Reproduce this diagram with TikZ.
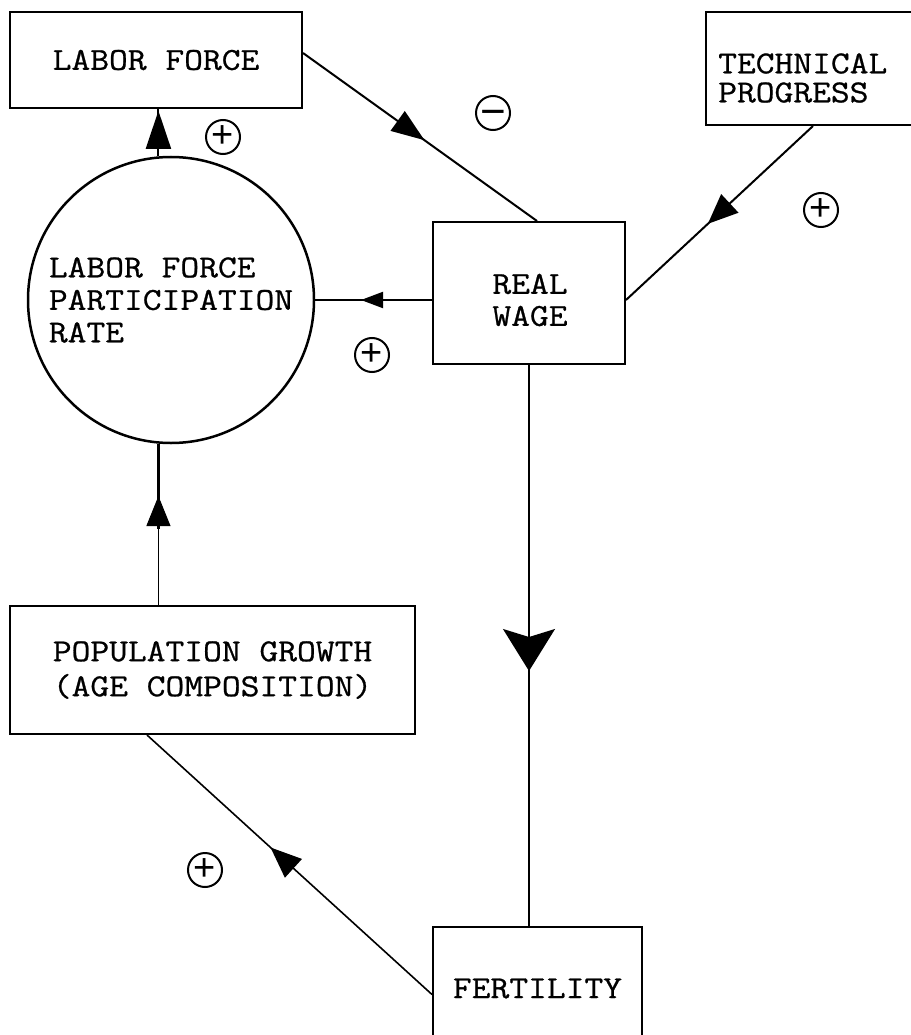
\documentclass[tikz,border=0pt]{standalone}
\usepackage{fontspec}
\newfontfamily\typefont{Latin Modern Mono}[FakeStretch=1.14,FakeBold=0.8]
\newfontfamily\signfont{Liberation Sans}
\usetikzlibrary{arrows.meta,decorations.markings,calc}
\begin{document}
\begin{tikzpicture}[x=1pt,y=-1pt,
  box/.style={draw, line width=2pt, rectangle, inner sep=0pt},
  lbl/.style={font=\typefont\fontsize{32}{#1}\selectfont, inner sep=0pt, align=left},
  lbl/.default=32,
  link/.style={line width=2pt},
  marrow/.style 2 args={postaction={decorate}, decoration={markings, mark=at position #1 with {\arrow{#2}}}},
  sign/.style={draw, circle, line width=2pt, minimum size=34pt, inner sep=0pt, font=\signfont\fontsize{38}{38}\selectfont}]
\useasboundingbox (0,0) rectangle (910,1035);
% boxes
\node[box, lbl, align=center, minimum width=292pt, minimum height=96pt] (lf) at (156,60) {LABOR FORCE};
\node[box, minimum width=209pt, minimum height=113pt] (tp) at (810.5,68.5) {};
\node[lbl=29, anchor=west] (tptext) at (718,78) {TECHNICAL\\PROGRESS};
\node[box, minimum width=192pt, minimum height=142pt] (rw) at (529,293) {};
\node[lbl, align=center] (rwtext) at (530,300) {REAL\\WAGE};
\node[draw, circle, line width=2.5pt, minimum size=286pt, inner sep=0pt, lbl=32.5, align=left] (circ) at (171,300) {LABOR FORCE\\PARTICIPATION\\RATE};
\node[box, lbl=35, align=center, minimum width=405pt, minimum height=128pt] (pg) at (212.5,670) {POPULATION GROWTH\\(AGE COMPOSITION)};
\node[box, lbl, minimum width=209pt, minimum height=123pt] (fert) at (537.5,988.5) {FERTILITY};
% connectors
\draw[link, marrow={45.5pt}{Triangle[length=38pt,width=25pt]}] (circ.95) -- (circ.95 |- lf.south);
\draw[link, marrow={149.5pt}{Triangle[length=33pt,width=24pt]}] ([yshift=7pt]lf.east) -- ([xshift=8pt]rw.north);
\draw[link, marrow={143.6pt}{Triangle[length=30pt,width=25pt]}] ([xshift=2.5pt]tp.south) -- ([yshift=-7pt]rw.east);
\draw[link, marrow={71pt}{Triangle[length=22pt,width=16pt]}] ([yshift=-7pt]rw.west) -- (circ.east);
\draw[line width=1pt, marrow={109pt}{Triangle[length=30pt,width=24pt]}] (circ.265 |- pg.north) -- (circ.265);
\draw[line width=2.5pt] (circ.265) -- ($(circ.265)!85pt!(circ.265 |- pg.north)$);
\draw[line width=1.6pt, marrow={306pt}{Stealth[length=42pt,width=52pt,inset=8pt]}] (rw.south) -- (rw.south |- fert.north);
\draw[line width=1.6pt, marrow={218.4pt}{Triangle[length=31pt,width=25pt]}] ([yshift=-6pt]fert.west) -- ([xshift=138pt]pg.south west);
% signs
\node[sign] (s1) at (223,137) {+};
\node[sign, font=\signfont\fontsize{44}{44}\selectfont] (s2) at (493,113) {\smash{\raisebox{-13.5pt}{−}}};
\node[sign] (s3) at (821,210) {+};
\node[sign] (s4) at (372,355) {+};
\node[sign] (s5) at (205,870) {+};
\end{tikzpicture}
\end{document}
